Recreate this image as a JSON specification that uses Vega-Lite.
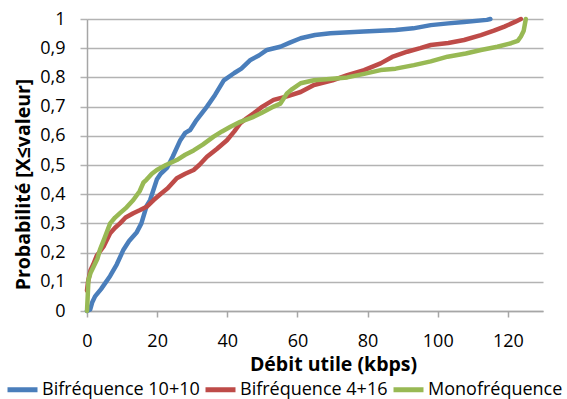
{
  "$schema": "https://vega.github.io/schema/vega-lite/v6.json",
  "width": 456,
  "height": 292,
  "autosize": {"type": "none"},
  "padding": {"left": 87, "top": 19, "right": 24, "bottom": 88},
  "background": "white",
  "config": {
    "view": {"stroke": null},
    "font": "Open Sans"
  },
  "datasets": {
    "blue": [
      {"x":0,"y":0},{"x":0.9,"y":0.005},{"x":1.5,"y":0.03},{"x":2.3,"y":0.05},{"x":4,"y":0.075},{"x":6.6,"y":0.12},{"x":8.5,"y":0.16},{"x":10.4,"y":0.21},{"x":12,"y":0.24},{"x":14.2,"y":0.27},{"x":15.5,"y":0.3},{"x":17,"y":0.36},{"x":18,"y":0.38},{"x":19.9,"y":0.45},{"x":21,"y":0.47},{"x":22.8,"y":0.49},{"x":24.5,"y":0.53},{"x":26.6,"y":0.585},{"x":28,"y":0.61},{"x":29.4,"y":0.62},{"x":31,"y":0.65},{"x":34.2,"y":0.7},{"x":36.5,"y":0.74},{"x":39,"y":0.79},{"x":42,"y":0.815},{"x":44,"y":0.83},{"x":46.6,"y":0.86},{"x":49,"y":0.875},{"x":51.3,"y":0.894},{"x":55.1,"y":0.905},{"x":58,"y":0.92},{"x":60.9,"y":0.934},{"x":65,"y":0.945},{"x":69.4,"y":0.951},{"x":78.9,"y":0.957},{"x":88,"y":0.962},{"x":93,"y":0.968},{"x":98,"y":0.979},{"x":103,"y":0.985},{"x":107.5,"y":0.99},{"x":114,"y":0.997},{"x":115,"y":1}
    ],
    "red": [
      {"x":0,"y":0.07},{"x":0.3,"y":0.1},{"x":1,"y":0.14},{"x":1.8,"y":0.16},{"x":2.8,"y":0.19},{"x":4.7,"y":0.22},{"x":6.6,"y":0.266},{"x":8,"y":0.285},{"x":9.4,"y":0.3},{"x":11,"y":0.32},{"x":13.2,"y":0.335},{"x":15,"y":0.345},{"x":17,"y":0.357},{"x":19,"y":0.38},{"x":20.9,"y":0.4},{"x":23,"y":0.42},{"x":25.6,"y":0.455},{"x":28,"y":0.47},{"x":30.4,"y":0.483},{"x":32,"y":0.5},{"x":34.2,"y":0.528},{"x":37,"y":0.555},{"x":39.9,"y":0.585},{"x":42,"y":0.615},{"x":43.7,"y":0.643},{"x":45.5,"y":0.66},{"x":47.5,"y":0.677},{"x":50,"y":0.7},{"x":53.2,"y":0.723},{"x":57,"y":0.735},{"x":60.9,"y":0.75},{"x":64.7,"y":0.774},{"x":70,"y":0.79},{"x":74.2,"y":0.808},{"x":79,"y":0.825},{"x":83.7,"y":0.848},{"x":87,"y":0.87},{"x":91.3,"y":0.888},{"x":95,"y":0.9},{"x":98,"y":0.911},{"x":103,"y":0.918},{"x":107.5,"y":0.928},{"x":112.3,"y":0.945},{"x":116,"y":0.96},{"x":119,"y":0.974},{"x":122,"y":0.99},{"x":123.7,"y":1}
    ],
    "green": [
      {"x":0,"y":0},{"x":0.2,"y":0.05},{"x":0.4,"y":0.106},{"x":1,"y":0.13},{"x":1.8,"y":0.15},{"x":3,"y":0.18},{"x":3.7,"y":0.21},{"x":5,"y":0.25},{"x":6.6,"y":0.3},{"x":8,"y":0.32},{"x":9.4,"y":0.335},{"x":11.3,"y":0.355},{"x":13.2,"y":0.38},{"x":15,"y":0.41},{"x":16.1,"y":0.44},{"x":17,"y":0.45},{"x":18.5,"y":0.47},{"x":19.9,"y":0.483},{"x":22.5,"y":0.5},{"x":25.6,"y":0.517},{"x":28,"y":0.535},{"x":30.4,"y":0.55},{"x":33,"y":0.57},{"x":36.1,"y":0.597},{"x":38.5,"y":0.615},{"x":40.9,"y":0.631},{"x":43.7,"y":0.648},{"x":47.5,"y":0.665},{"x":50,"y":0.68},{"x":53.2,"y":0.7},{"x":55.1,"y":0.71},{"x":57,"y":0.745},{"x":58.5,"y":0.76},{"x":60.9,"y":0.78},{"x":64.7,"y":0.79},{"x":70,"y":0.795},{"x":74.2,"y":0.8},{"x":79,"y":0.812},{"x":83.7,"y":0.825},{"x":88,"y":0.83},{"x":93.2,"y":0.842},{"x":98,"y":0.855},{"x":102.8,"y":0.871},{"x":108,"y":0.882},{"x":112.3,"y":0.894},{"x":117,"y":0.905},{"x":120.9,"y":0.917},{"x":122.8,"y":0.925},{"x":123.7,"y":0.94},{"x":124.5,"y":0.96},{"x":125.1,"y":1}
    ]
  },
  "encoding": {
    "x": {"field": "x", "type": "quantitative", "scale": {"domain": [0, 130], "nice": false, "zero": true},
      "axis": {"values": [0,20,40,60,80,100,120], "grid": false, "labelFlush": false, "domainColor": "#a6a6a6", "domainWidth": 1.5, "tickColor": "#a6a6a6", "tickWidth": 1.5, "tickSize": 6, "labelFontSize": 18, "labelColor": "#000", "labelPadding": 15, "title": "Débit utile (kbps)", "titleFontSize": 19.5, "titleFontWeight": "bold", "titleColor": "#000", "titleX": 246, "titleY": 59, "titleBaseline": "alphabetic", "titleAlign": "center"}},
    "y": {"field": "y", "type": "quantitative", "scale": {"domain": [0, 1], "nice": false},
      "axis": {"values": [0,0.1,0.2,0.3,0.4,0.5,0.6,0.7,0.8,0.9,1], "grid": true, "labelFlush": false, "gridColor": "#b3b3b3", "gridWidth": 1.5, "domainColor": "#a6a6a6", "domainWidth": 1.5, "tickColor": "#b3b3b3", "tickWidth": 1.5, "tickSize": 7, "labelFontSize": 18, "labelColor": "#000", "labelPadding": 15, "labelExpr": "replace(format(datum.value, '.1~f'), '.', ',')", "title": "Probabilité [X≤valeur]", "titleFontSize": 19.5, "titleFontWeight": "bold", "titleColor": "#000", "titleX": -64, "titleY": 165, "titleAngle": -90, "titleAlign": "center", "titleBaseline": "middle"}},
    "color": {"field": "serie", "type": "nominal",
      "scale": {"domain": ["Bifréquence 10+10", "Bifréquence 4+16", "Monofréquence"], "range": ["#4a7ebb", "#be4b48", "#98b954"]},
      "legend": {"orient": "none", "legendX": -82, "legendY": 353, "direction": "horizontal", "title": null, "symbolType": "stroke", "symbolStrokeWidth": 5, "symbolSize": 900, "labelFontSize": 18, "labelColor": "#000", "labelOffset": 2, "columnPadding": -5, "padding": 0}}
  },
  "layer": [
    {
      "data": {"name": "blue"},
      "transform": [{"calculate": "'Bifréquence 10+10'", "as": "serie"}],
      "mark": {"type": "line", "strokeWidth": 4.5, "strokeJoin": "round", "strokeCap": "round"}
    },
    {
      "data": {"name": "red"},
      "transform": [{"calculate": "'Bifréquence 4+16'", "as": "serie"}],
      "mark": {"type": "line", "strokeWidth": 4.5, "strokeJoin": "round", "strokeCap": "round"}
    },
    {
      "data": {"name": "green"},
      "transform": [{"calculate": "'Monofréquence'", "as": "serie"}],
      "mark": {"type": "line", "strokeWidth": 4.5, "strokeJoin": "round", "strokeCap": "round"}
    }
  ]
}
